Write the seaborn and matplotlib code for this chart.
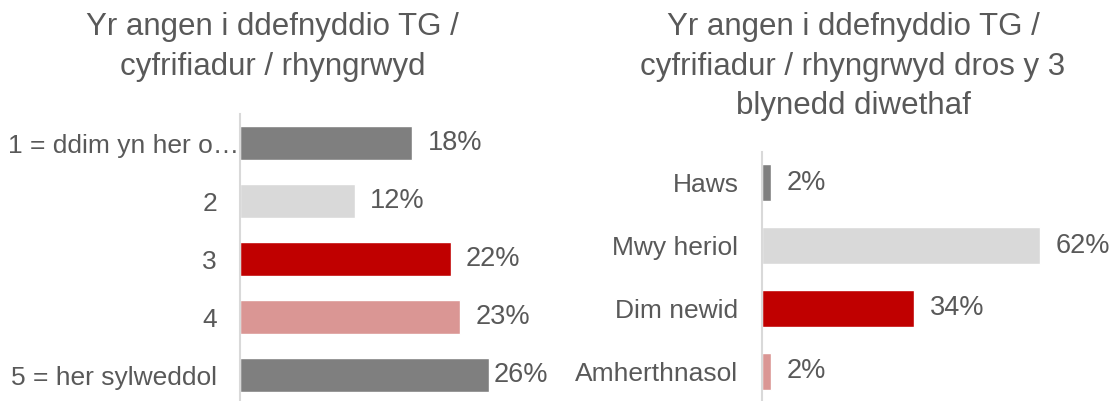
import seaborn as sns
import matplotlib.pyplot as plt
import matplotlib.transforms as mtransforms
import pandas as pd

# left chart
leftTitle = "Yr angen i ddefnyddio TG /\ncyfrifiadur / rhyngrwyd"
leftCats = ["1 = ddim yn her o…", "2", "3", "4", "5 = her sylweddol"]
leftVals = [18, 12, 22, 23, 26]
leftColors = ["#7f7f7f", "#d9d9d9", "#c00000", "#da9694", "#7f7f7f"]

# right chart
rightTitle = "Yr angen i ddefnyddio TG /\ncyfrifiadur / rhyngrwyd dros y 3\nblynedd diwethaf"
rightCats = ["Haws", "Mwy heriol", "Dim newid", "Amherthnasol"]
rightVals = [2, 62, 34, 2]
rightColors = ["#7f7f7f", "#d9d9d9", "#c00000", "#da9694"]

sns.set_style("white")
plt.rcParams["font.family"] = ["Liberation Sans", "DejaVu Sans"]

textColor = "#595959"

fig = plt.figure(figsize=(11.15, 4.01), dpi=100)
axL = fig.add_axes([0.2152, -0.0075, 0.2578, 0.723])
axR = fig.add_axes([0.6834, -0.004, 0.2816, 0.626])


def drawPanel(ax, cats, vals, colors, xmax, tickPad, lastPad):
    df = pd.DataFrame({"cat": cats, "val": vals})
    sns.barplot(data=df, y="cat", x="val", hue="cat", palette=colors,
                order=cats, hue_order=cats, width=0.59, legend=False,
                saturation=1, ax=ax)
    ax.set_xlim(0, xmax)
    ax.set_xlabel("")
    ax.set_ylabel("")
    ax.set_xticks([])
    for s in ["top", "right", "bottom"]:
        ax.spines[s].set_visible(False)
    ax.spines["left"].set_color("#d9d9d9")
    ax.spines["left"].set_linewidth(1.5)
    ax.tick_params(axis="y", length=0, pad=tickPad, labelsize=19,
                   labelcolor=textColor)
    ax.patch.set_alpha(0)
    n = len(ax.containers)
    for i, c in enumerate(ax.containers):
        pad = lastPad if i == n - 1 else 11
        ax.bar_label(c, labels=[f"{v:.0f}%" for v in c.datavalues],
                     padding=pad, fontsize=19.5, color=textColor)


drawPanel(axL, leftCats, leftVals, leftColors, 30, 16.5, 3)
drawPanel(axR, rightCats, rightVals, rightColors, 70, 17, 11)

# the truncated first label runs up to the axis line
firstLabel = axL.get_yticklabels()[0]
firstLabel.set_transform(firstLabel.get_transform() +
                         mtransforms.ScaledTranslation(0.22, 0, fig.dpi_scale_trans))

fig.text(0.2444, 0.97, leftTitle, ha="center", va="top", fontsize=22.5,
         color=textColor, linespacing=1.42)
fig.text(0.765, 0.97, rightTitle, ha="center", va="top", fontsize=22.5,
         color=textColor, linespacing=1.42)

fig.savefig("out.png", dpi=100)
